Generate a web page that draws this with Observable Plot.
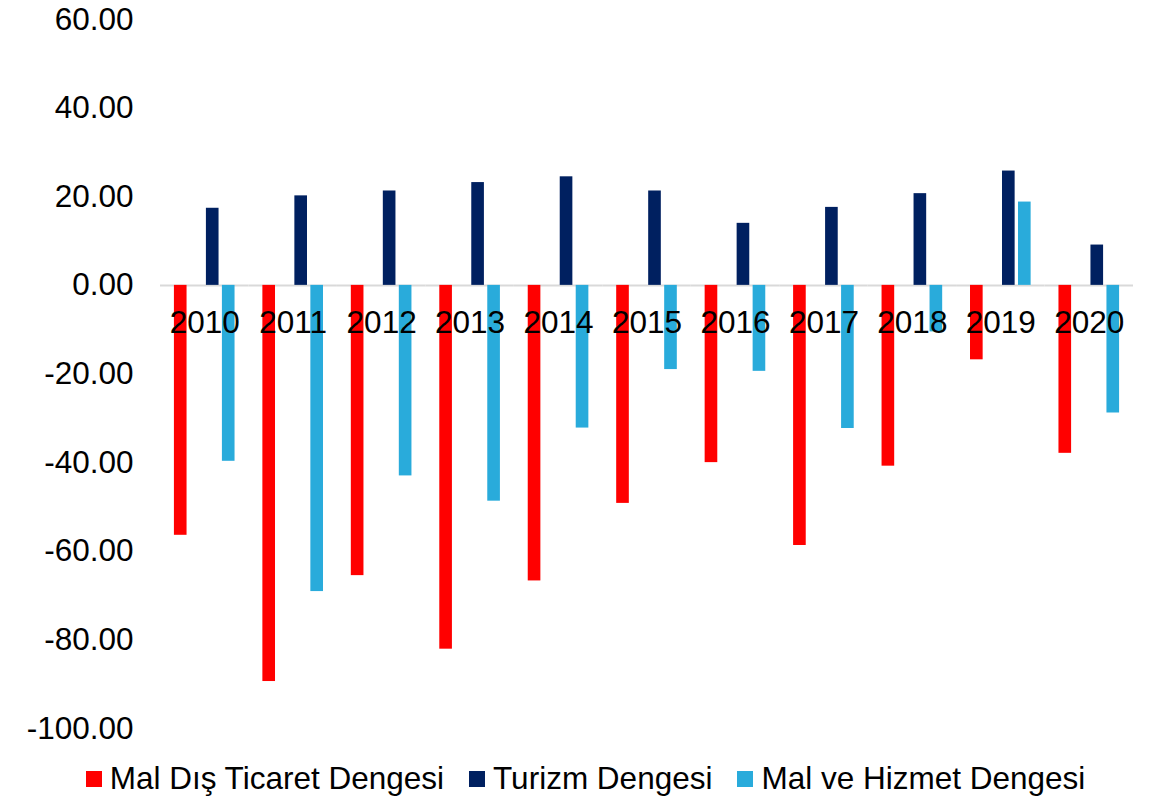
<!DOCTYPE html>
<html>
<head>
<meta charset="utf-8">
<script src="https://cdn.jsdelivr.net/npm/d3@7"></script>
<script src="https://cdn.jsdelivr.net/npm/@observablehq/plot@0.6"></script>
<style>
  html, body { margin: 0; padding: 0; background: #fff; }
  #chart { width: 1171px; }
  .legend { display: flex; justify-content: center; align-items: center; gap: 25px;
            font-family: "Liberation Sans", Arial, sans-serif; font-size: 31.5px; color: #000;
            height: 53px; padding-left: 0; box-sizing: border-box; }
  .legend .item { display: flex; align-items: center; }
  .legend .sw { width: 16px; height: 16px; margin-right: 8px; }
</style>
</head>
<body>
<div id="chart"></div>
<script>
const years = ["2010","2011","2012","2013","2014","2015","2016","2017","2018","2019","2020"];
const seriesNames = ["Mal Dış Ticaret Dengesi", "Turizm Dengesi", "Mal ve Hizmet Dengesi"];
const seriesColors = ["#ff0000", "#002060", "#29abdb"];
const malDisTicaret = [-56.4, -89.4, -65.5, -82.1, -66.7, -49.2, -40.0, -58.7, -40.8, -16.8, -37.9];
const turizm =        [17.4, 20.2, 21.3, 23.2, 24.5, 21.3, 14.0, 17.6, 20.7, 25.8, 9.1];
const malHizmet =     [-39.7, -69.1, -43.0, -48.7, -32.2, -19.0, -19.4, -32.3, -10.5, 18.8, -28.8];
const yTicks = [-100, -80, -60, -40, -20, 0, 20, 40, 60];
// slot order inside each year (one empty slot, as in the source chart)
const slots = [seriesNames[0], "", seriesNames[1], seriesNames[2]];

const seriesValues = [malDisTicaret, turizm, malHizmet];
const data = [];
years.forEach((y, i) => {
  seriesNames.forEach((s, j) => data.push({year: y, series: s, value: seriesValues[j][i]}));
});

const chart = Plot.plot({
  width: 1171,
  height: 752,
  marginTop: 19,
  marginBottom: 24,
  marginLeft: 160,
  marginRight: 38,
  style: {fontFamily: "Liberation Sans, Arial, sans-serif", fontSize: "31.5px", background: "white", color: "black"},
  fx: {domain: years, padding: 0, round: false, axis: null, label: null},
  x: {domain: slots, paddingInner: 0.21, paddingOuter: 0.87, round: false, axis: null, label: null},
  y: {domain: [-100, 60], axis: null, label: null},
  color: {domain: seriesNames, range: seriesColors},
  marks: [
    Plot.ruleY([0], {stroke: "#d9d9d9", strokeWidth: 2}),
    Plot.barY(data, {fx: "year", x: "series", y: "value", fill: "series"}),
    Plot.axisY({ticks: yTicks, tickFormat: d => d.toFixed(2), tickSize: 0, tickPadding: 27, fill: "black", label: null, facetAnchor: "left"}),
    Plot.text(years, {fx: d => d, y: () => 0, text: d => d, dy: 38, fill: "black", fontSize: 31.5})
  ]
});
document.getElementById("chart").appendChild(chart);

const legend = document.createElement("div");
legend.className = "legend";
seriesNames.forEach((s, i) => {
  const it = document.createElement("div");
  it.className = "item";
  const sw = document.createElement("span");
  sw.className = "sw";
  sw.style.background = seriesColors[i];
  it.appendChild(sw);
  it.appendChild(document.createTextNode(s));
  legend.appendChild(it);
});
document.getElementById("chart").appendChild(legend);
</script>
</body>
</html>
